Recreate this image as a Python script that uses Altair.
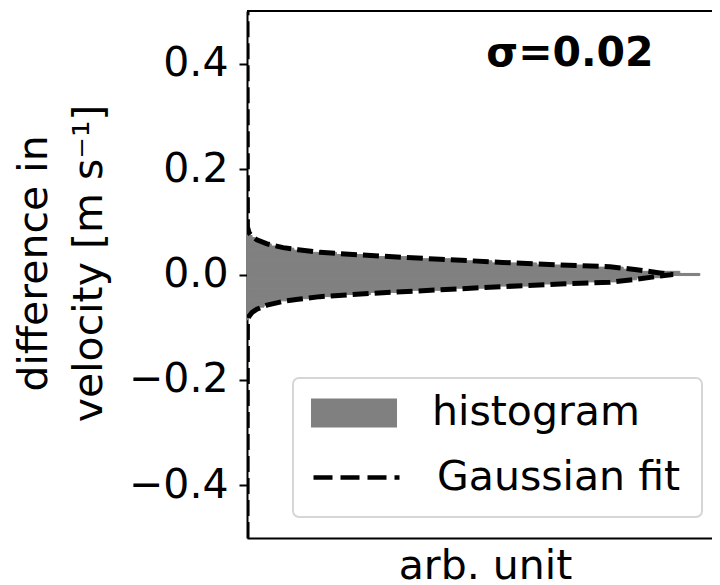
import altair as alt
import pandas as pd

# ---- data ----
# Gaussian fit: velocity difference [m s^-1] and amplitude [arb. unit]
fit_velocity = [-0.5, -0.09, -0.079, -0.072, -0.066, -0.058, -0.051, -0.047, -0.042,
                -0.035, -0.029, -0.023, -0.018, -0.0148, -0.009, -0.003, 0.0,
                0.003, 0.009, 0.0148, 0.018, 0.023, 0.029, 0.035, 0.042, 0.047,
                0.051, 0.058, 0.066, 0.072, 0.079, 0.09, 0.5]
fit_value = [0.0, 0.001, 0.005, 0.012, 0.023, 0.047, 0.085, 0.12, 0.171,
             0.31, 0.453, 0.60, 0.735, 0.852, 0.915, 0.969, 1.0,
             0.969, 0.915, 0.852, 0.735, 0.60, 0.453, 0.31, 0.171, 0.12,
             0.085, 0.047, 0.023, 0.012, 0.005, 0.001, 0.0]

# histogram: bin centres [m s^-1] and counts [arb. unit]
BIN_WIDTH = 0.004
bin_center = [-0.084, -0.080, -0.076, -0.072, -0.068, -0.064, -0.060, -0.056,
              -0.052, -0.048, -0.044, -0.040, -0.036, -0.032, -0.028, -0.024,
              -0.020, -0.016, -0.012, -0.008, -0.004, 0.0,
              0.004, 0.008, 0.012, 0.016, 0.020, 0.024, 0.028, 0.032,
              0.036, 0.040, 0.044, 0.048, 0.052, 0.056, 0.060, 0.064,
              0.068, 0.072, 0.076, 0.080, 0.084]
hist_count = [0.002, 0.004, 0.008, 0.013, 0.020, 0.030, 0.040, 0.055,
              0.078, 0.105, 0.150, 0.215, 0.290, 0.385, 0.480, 0.570,
              0.690, 0.800, 0.885, 0.915, 0.975, 1.063,
              1.016, 0.924, 0.883, 0.810, 0.680, 0.575, 0.478, 0.380,
              0.290, 0.210, 0.150, 0.110, 0.080, 0.057, 0.041, 0.029,
              0.019, 0.012, 0.008, 0.004, 0.002]

y_ticks = [-0.4, -0.2, 0.0, 0.2, 0.4]
sigma_label = "σ=0.02"
hist_label = "histogram"
fit_label = "Gaussian fit"

FONT = "DejaVu Sans"
W, H = 465, 527

hist_df = pd.DataFrame({
    "lo": [c - BIN_WIDTH / 2 for c in bin_center],
    "hi": [c + BIN_WIDTH / 2 for c in bin_center],
    "c": hist_count,
    "lab": hist_label,
})
fit_df = pd.DataFrame({"v": fit_velocity, "c": fit_value, "lab": fit_label})

xs = alt.Scale(domain=[0, 1.0915], nice=False, zero=False)
ys = alt.Scale(domain=[-0.5, 0.5], nice=False)

x_axis = alt.Axis(labels=False, ticks=False, grid=False, domain=True,
                  domainColor="black", domainWidth=2, title="arb. unit",
                  titleFontSize=41, titleFont=FONT, titleFontWeight="normal",
                  titleColor="black", titleBaseline="alphabetic", titleY=40,
                  titleX=238)
y_axis = alt.Axis(values=y_ticks, format=".1f", grid=False, domainColor="black",
                  domainWidth=2, tickColor="black", tickWidth=2, tickSize=8,
                  labelFontSize=41, labelFont=FONT, labelColor="black",
                  labelPadding=11,
                  title=["difference in", "velocity [m s⁻¹]"],
                  titleFontSize=41, titleFont=FONT, titleFontWeight="normal",
                  titleColor="black", titleLineHeight=55,
                  titleBaseline="alphabetic", titleAlign="center",
                  titleAngle=270, titleX=-201, titleY=252)

hist = alt.Chart(hist_df).mark_bar(
    clip=True, opacity=1, stroke="#808080", strokeWidth=1.0
).encode(
    y=alt.Y("lo:Q", scale=ys, axis=y_axis),
    y2="hi:Q",
    x=alt.X("c:Q", scale=xs, axis=x_axis, stack=None),
    x2=alt.datum(0),
    fill=alt.Fill("lab:N", scale=alt.Scale(range=["#808080"]),
                  legend=alt.Legend(orient="none", legendX=64, legendY=359,
                                    title=None,
                                    symbolType="M-1,-0.337H1V0.337H-1Z",
                                    symbolSize=7396, symbolStrokeWidth=0,
                                    symbolOpacity=1, labelLimit=400,
                                    labelFontSize=41, labelFont=FONT,
                                    labelColor="black", labelOffset=35)),
)

fit = alt.Chart(fit_df).mark_line(
    strokeWidth=5, strokeDash=[16, 6], clip=True
).encode(
    y=alt.Y("v:Q", scale=ys),
    x=alt.X("c:Q", scale=xs),
    order=alt.Order("v:Q"),
    stroke=alt.Stroke("lab:N", scale=alt.Scale(range=["black"]),
                      legend=alt.Legend(orient="none", legendX=64, legendY=421,
                                        title=None, symbolType="stroke",
                                        symbolSize=7396, symbolStrokeWidth=4.5,
                                        symbolDash=[19, 8], labelLimit=400,
                                        labelFontSize=41, labelFont=FONT,
                                        labelColor="black", labelOffset=35)),
)

dummy = pd.DataFrame({"a": [0]})
top_spine = alt.Chart(dummy).mark_rule(color="black", strokeWidth=2).encode(
    x=alt.value(0), x2=alt.value(W), y=alt.value(0)
)

legend_frame = alt.Chart(dummy).mark_rect(
    fill="white", fillOpacity=0.8, stroke="#d6d6d6", strokeWidth=2, cornerRadius=6
).encode(x=alt.value(46), x2=alt.value(455), y=alt.value(367), y2=alt.value(506))

sigma = alt.Chart(dummy).mark_text(
    text=sigma_label, fontSize=41, fontWeight="bold", font=FONT,
    align="center", baseline="alphabetic", color="black"
).encode(x=alt.datum(0.758), y=alt.datum(0.396))

chart = alt.layer(hist, fit, legend_frame, sigma, top_spine).properties(
    width=W, height=H,
    autosize=alt.AutoSizeParams(type="none"),
    padding={"left": 239, "top": 3, "right": 0, "bottom": 46},
).configure_view(stroke=None).configure(font=FONT)

chart.save("out.html", embed_options={"renderer": "svg", "actions": False})
